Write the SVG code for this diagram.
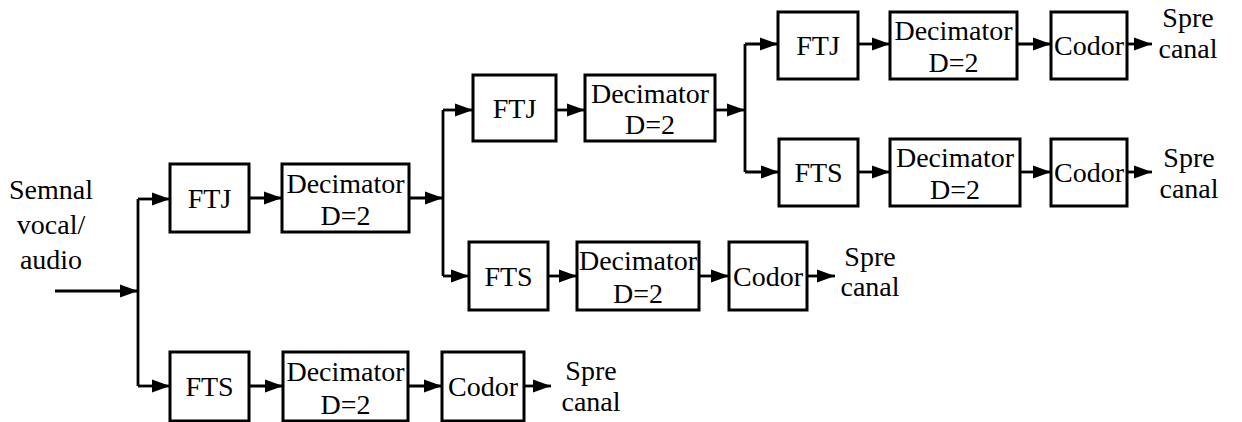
<svg xmlns="http://www.w3.org/2000/svg" width="1242" height="422" viewBox="0 0 1242 422">
<defs>
<style>
.box{fill:#fff;stroke:#000;stroke-width:3}
.t{font-family:'Liberation Serif','Times New Roman',serif;font-size:28px;fill:#000;text-anchor:middle}
.c{fill:none;stroke:#000;stroke-width:2.8}
.a{fill:none;stroke:#000;stroke-width:2.8;marker-end:url(#ah)}
</style>
<marker id="ah" markerUnits="userSpaceOnUse" markerWidth="20" markerHeight="14" refX="18" refY="6.5" orient="auto" overflow="visible">
<path d="M0,0 L18,6.5 L0,13 z" fill="#000"/>
</marker>
</defs>
<rect width="1242" height="422" fill="#fff"/>

<g id="connectors">
<path class="a" d="M55,291 H138"/>
<path class="c" d="M138,199 V386"/>
<path class="a" d="M138,199 H170"/>
<path class="a" d="M138,386 H170"/>
<path class="a" d="M249,198 H282"/>
<path class="a" d="M409,198 H443"/>
<path class="c" d="M443,110 V276"/>
<path class="a" d="M443,110 H473"/>
<path class="a" d="M443,276 H469"/>
<path class="a" d="M556,110 H585"/>
<path class="a" d="M715,110 H745"/>
<path class="c" d="M745,44 V172"/>
<path class="a" d="M745,44 H778"/>
<path class="a" d="M745,172 H779"/>
<path class="a" d="M858,44 H890"/>
<path class="a" d="M1017,44 H1051"/>
<path class="a" d="M1127,44 H1152"/>
<path class="a" d="M858,172 H890"/>
<path class="a" d="M1020,172 H1051"/>
<path class="a" d="M1127,172 H1152"/>
<path class="a" d="M548,276 H577"/>
<path class="a" d="M699,276 H729"/>
<path class="a" d="M807,276 H835"/>
<path class="a" d="M249,386 H283"/>
<path class="a" d="M408,386 H442"/>
<path class="a" d="M524,386 H551"/>
</g>

<g id="input-label">
<text class="t" x="51" y="199">Semnal</text>
<text class="t" x="51" y="234">vocal/</text>
<text class="t" x="51" y="269">audio</text>
</g>

<g id="ftj1"><rect class="box" x="170" y="164" width="79" height="68"/><text class="t" x="209.5" y="208">FTJ</text></g>
<g id="dec1"><rect class="box" x="282" y="164" width="127" height="68"/><text class="t" x="345.5" y="193">Decimator</text><text class="t" x="345.5" y="225">D=2</text></g>

<g id="fts1"><rect class="box" x="170" y="352" width="79" height="69"/><text class="t" x="209.5" y="396">FTS</text></g>
<g id="dec1b"><rect class="box" x="283" y="352" width="125" height="69"/><text class="t" x="345.5" y="381">Decimator</text><text class="t" x="345.5" y="414">D=2</text></g>
<g id="codor1"><rect class="box" x="442" y="352" width="82" height="69"/><text class="t" x="483" y="396">Codor</text></g>
<g id="out1"><text class="t" x="591" y="380">Spre</text><text class="t" x="591" y="411">canal</text></g>

<g id="ftj2"><rect class="box" x="473" y="75" width="83" height="66"/><text class="t" x="514.5" y="118">FTJ</text></g>
<g id="dec2"><rect class="box" x="585" y="75" width="130" height="66"/><text class="t" x="650" y="103">Decimator</text><text class="t" x="650" y="134">D=2</text></g>

<g id="fts2"><rect class="box" x="469" y="242" width="79" height="68"/><text class="t" x="508.5" y="286">FTS</text></g>
<g id="dec2b"><rect class="box" x="577" y="242" width="122" height="68"/><text class="t" x="638" y="270">Decimator</text><text class="t" x="638" y="303">D=2</text></g>
<g id="codor2"><rect class="box" x="729" y="242" width="78" height="68"/><text class="t" x="768" y="286">Codor</text></g>
<g id="out2"><text class="t" x="870" y="266">Spre</text><text class="t" x="870" y="296">canal</text></g>

<g id="ftj3"><rect class="box" x="778" y="12" width="80" height="67"/><text class="t" x="818" y="55">FTJ</text></g>
<g id="dec3"><rect class="box" x="890" y="12" width="127" height="67"/><text class="t" x="953.5" y="40">Decimator</text><text class="t" x="953.5" y="72">D=2</text></g>
<g id="codor3"><rect class="box" x="1051" y="12" width="76" height="67"/><text class="t" x="1089" y="55">Codor</text></g>
<g id="out3"><text class="t" x="1188" y="27">Spre</text><text class="t" x="1188" y="58">canal</text></g>

<g id="fts3"><rect class="box" x="779" y="139" width="79" height="67"/><text class="t" x="818.5" y="182">FTS</text></g>
<g id="dec3b"><rect class="box" x="890" y="139" width="130" height="67"/><text class="t" x="955" y="167">Decimator</text><text class="t" x="955" y="199">D=2</text></g>
<g id="codor3b"><rect class="box" x="1051" y="139" width="76" height="67"/><text class="t" x="1089" y="182">Codor</text></g>
<g id="out3b"><text class="t" x="1189" y="167">Spre</text><text class="t" x="1189" y="198">canal</text></g>
</svg>
